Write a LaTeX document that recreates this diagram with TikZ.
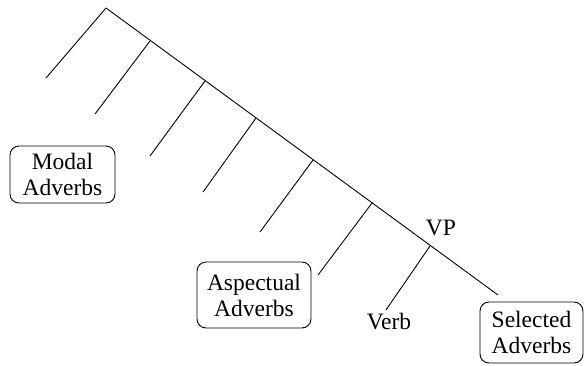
\documentclass[tikz,border=0pt]{standalone}
\usepackage{fontspec}
\setmainfont{Liberation Serif}
\begin{document}
\begin{tikzpicture}[x=1pt,y=-1pt,
  branch/.style={line width=0.9pt},
  advbox/.style={draw, line width=0.9pt, rounded corners=9pt, align=center,
    inner sep=0pt, font=\fontsize{23.5}{26}\selectfont},
  lbl/.style={inner sep=0pt, font=\fontsize{23.5}{26}\selectfont}]
\useasboundingbox (0,0) rectangle (584,365);

% spine nodes
\coordinate (top) at (106,8);
\coordinate (b1) at (150,41);
\coordinate (b2) at (205,81);
\coordinate (b3) at (256,118);
\coordinate (b4) at (313,160);
\coordinate (b5) at (372,203);
\coordinate (vp) at (430,246);
\coordinate (end) at (498,295);

% free ends of the left branches
\coordinate (e0) at (46,78);
\coordinate (e1) at (95,114);
\coordinate (e2) at (150,156);
\coordinate (e3) at (203,192);
\coordinate (e4) at (260,232);
\coordinate (e5) at (318,275);
\coordinate (ev) at (386,310);

% labels and boxes
\node[advbox, minimum width=105pt, minimum height=57pt] (modal) at (62.5,174.5) {Modal\\Adverbs};
\node[advbox, minimum width=114pt, minimum height=66pt] (aspect) at (254,295) {Aspectual\\Adverbs};
\node[advbox, minimum width=103pt, minimum height=61pt] (selected) at (531.5,332.5) {Selected\\Adverbs};
\node[lbl] (vplbl) at (441,228) {VP};
\node[lbl] (verb) at (389,322) {Verb};

% tree
\draw[branch] (top) -- (end);
\draw[branch] (top) -- (e0);
\draw[branch] (b1) -- (e1);
\draw[branch] (b2) -- (e2);
\draw[branch] (b3) -- (e3);
\draw[branch] (b4) -- (e4);
\draw[branch] (b5) -- (e5);
\draw[branch] (vp) -- (ev);
\end{tikzpicture}
\end{document}
